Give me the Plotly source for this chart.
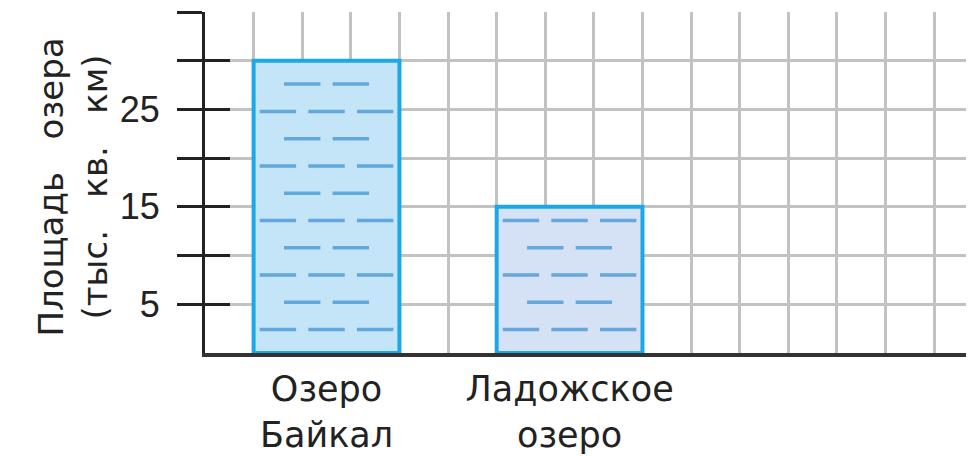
import plotly.graph_objects as go

# ---- data ----
categories = ["Озеро<br>Байкал", "Ладожское<br>озеро"]
areas = [30, 15]  # тыс. кв. км
y_tick_values = [5, 10, 15, 20, 25, 30, 35]
y_tick_labels = ["5", "", "15", "", "25", "", ""]
y_title = ("Площадь\u00a0\u00a0\u00a0озера<br>"
           "(тыс.\u00a0\u00a0\u00a0кв.\u00a0\u00a0\u00a0км)")

# ---- layout constants ----
CELL_GAP = 5          # cells between bar centres
FIRST_CENTRE = 2.5    # first bar centre in cell units
BAR_W = 3
X_MAX = 15.82
Y_MAX = 35

fill_colors = ["#c4e4f8", "#d5e1f4"]
edge_color = "#1ca8e6"
wave_color = "rgba(74,152,214,0.8)"
ink = "#222222"
grid = "#c2c2c2"

xpos = [FIRST_CENTRE + CELL_GAP * i for i in range(len(categories))]

fig = go.Figure()
fig.add_trace(go.Bar(
    x=xpos, y=areas, width=BAR_W,
    marker=dict(color=fill_colors, line=dict(color=edge_color, width=4)),
    hoverinfo="skip", showlegend=False,
))

# decorative water ripples inside each bar (derived from bar geometry)
wx, wy = [], []
for xc, v in zip(xpos, areas):
    k = 0
    yy = 2.4
    while yy < v - 1.0:
        offs = [-1, 0, 1] if k % 2 == 0 else [-0.5, 0.5]
        for o in offs:
            wx.append(xc + o)
            wy.append(yy)
        k += 1
        yy += 2.8
fig.add_trace(go.Scatter(
    x=wx, y=wy, mode="markers", yaxis="y2",
    marker=dict(symbol="line-ew", size=26, line=dict(color=wave_color, width=3.5)),
    hoverinfo="skip", showlegend=False,
))

fig.update_layout(
    width=966, height=448,
    margin=dict(l=197, r=0, t=4, b=103),
    paper_bgcolor="white", plot_bgcolor="white",
    font=dict(family="DejaVu Sans", color=ink),
    xaxis=dict(
        range=[0, X_MAX], tickmode="array", tickvals=xpos, ticktext=categories,
        tickfont=dict(family="DejaVu Sans", size=35, color=ink),
        showgrid=False, zeroline=False, ticks="",
        showline=True, linecolor="#333333", linewidth=4,
        minor=dict(tickmode="linear", tick0=0, dtick=1, showgrid=True,
                   gridcolor=grid, gridwidth=2.5, ticks=""),
        ticklabelstandoff=2,
    ),
    yaxis=dict(
        range=[0, Y_MAX], tickmode="array", tickvals=y_tick_values, ticktext=y_tick_labels,
        tickfont=dict(family="Liberation Sans", size=36, color=ink),
        ticks="outside", ticklen=25, tickwidth=3, tickcolor=ink,
        showgrid=True, gridcolor=grid, gridwidth=2.5, zeroline=False,
        showline=True, linecolor=ink, linewidth=3,
        ticklabelstandoff=10,
    ),
    yaxis2=dict(
        range=[0, Y_MAX], overlaying="y", side="left", tickmode="array",
        tickvals=y_tick_values, ticks="inside", ticklen=25, tickwidth=3, tickcolor=ink,
        showticklabels=False, showgrid=False, zeroline=False, showline=False,
    ),
    annotations=[dict(
        text=y_title, xref="paper", yref="paper", x=0, y=0.5,
        xanchor="center", yanchor="middle", xshift=-133, yshift=-5,
        textangle=-90, showarrow=False,
        font=dict(family="DejaVu Sans", size=34, color=ink),
    )],
)

fig.write_html("out.html")
